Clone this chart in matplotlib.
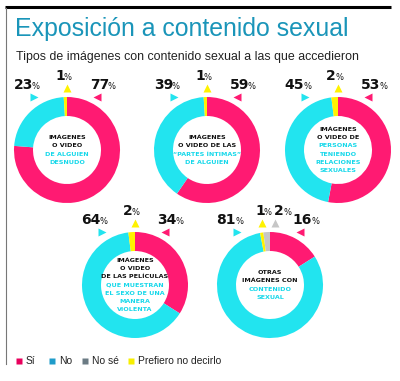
import matplotlib
matplotlib.use("Agg")
import matplotlib.pyplot as plt

# Data
categories = ["Sí", "No", "No sé", "Prefiero no decirlo"]
si = [77, 59, 53, 34, 16]
no = [23, 39, 45, 64, 81]
no_se = [0, 0, 0, 0, 2]
prefiero = [1, 1, 2, 2, 1]
titles_black = [["IMÁGENES", "O VIDEO"],
                ["IMÁGENES", "O VIDEO DE LAS"],
                ["IMÁGENES", "O VIDEO DE"],
                ["IMÁGENES", "O VIDEO", "DE LAS PELÍCULAS"],
                ["OTRAS", "IMÁGENES CON"]]
titles_cyan = [["DE ALGUIEN", "DESNUDO"],
               ["“PARTES ÍNTIMAS”", "DE ALGUIEN"],
               ["PERSONAS", "TENIENDO", "RELACIONES", "SEXUALES"],
               ["QUE MUESTRAN", "EL SEXO DE UNA", "MANERA", "VIOLENTA"],
               ["CONTENIDO", "SEXUAL"]]

# layout (pixel coords)
centers = [(67, 150), (207, 150), (338, 150), (135, 285), (270, 285)]
R = 53
W = 19

pink = "#ff1a72"
cyan = "#22e4ef"
yellow = "#fff200"
grey = "#c6c6c6"
leg_colors = ["#e8005d", "#1f9cca", "#6b7b84", "#f7ef00"]

fig = plt.figure(figsize=(4.0, 3.81), dpi=100)
ax = fig.add_axes([0, 0, 1, 1])

num_font = "DejaVu Sans"
lab_font = "DejaVu Sans"

for i, (cx, cy) in enumerate(centers):
    vals = [si[i], no[i], prefiero[i], no_se[i]]
    cols = [pink, cyan, yellow, grey]
    ax.pie(vals, colors=cols, startangle=-90, counterclock=True,
           center=(cx, cy), radius=R, frame=True,
           wedgeprops=dict(width=W, linewidth=0))

    # percentage labels
    def pct(x, y, v):
        ax.text(x, y, str(v), ha="right", va="center", fontsize=10,
                fontweight="bold", family=num_font, color="#111111")
        ax.text(x - 1, y + 1.5, "%", ha="left", va="center", fontsize=6,
                family=num_font, color="#111111")

    pct(cx - 34, cy - 65, no[i])
    ax.plot(cx - 33, cy - 53, marker=">", ms=5.5, color=cyan, mec="none")
    pct(cx + 42, cy - 65, si[i])
    ax.plot(cx + 30, cy - 53, marker="<", ms=5.5, color=pink, mec="none")
    if no_se[i] > 0:
        pct(cx - 5, cy - 74, prefiero[i])
        ax.plot(cx - 8, cy - 62, marker="^", ms=5.5, color=yellow, mec="none")
        pct(cx + 14, cy - 74, no_se[i])
        ax.plot(cx + 5, cy - 62, marker="^", ms=5.5, color=grey, mec="none")
    else:
        pct(cx - 2, cy - 74, prefiero[i])
        ax.plot(cx, cy - 62, marker="^", ms=5.5, color=yellow, mec="none")

    # center text
    lines = [(t, "#111111") for t in titles_black[i]] + [(t, "#16d8ea") for t in titles_cyan[i]]
    step = 8.3
    y0 = cy - step * (len(lines) - 1) / 2
    for k, (t, c) in enumerate(lines):
        ax.text(cx, y0 + k * step, t, ha="center", va="center", fontsize=4.6,
                fontweight="bold", family=lab_font, color=c)

# title and subtitle
ax.text(15, 29, "Exposición a contenido sexual", ha="left", va="center",
        fontsize=17.9, family="Liberation Sans", color="#1a95b9")
ax.text(16, 57, "Tipos de imágenes con contenido sexual a las que accedieron",
        ha="left", va="center", fontsize=8.9, family="Liberation Sans", color="#222222")

# frame lines
ax.plot([5, 391], [6.5, 6.5], color="black", lw=2.2, solid_capstyle="butt")
ax.plot([6, 6], [8, 364], color="#777777", lw=0.8)

# legend
leg_x = [16, 49, 82, 128]
for x, c, lab in zip(leg_x, leg_colors, categories):
    ax.plot(x + 3, 361, marker="s", ms=4.5, color=c, mec="none")
    ax.text(x + 10, 361, lab, ha="left", va="center", fontsize=7.4,
            family="Liberation Sans", color="#222222")

ax.set_xlim(0, 400)
ax.set_ylim(381, 0)
ax.axis("off")

fig.savefig("out.png", dpi=100)
